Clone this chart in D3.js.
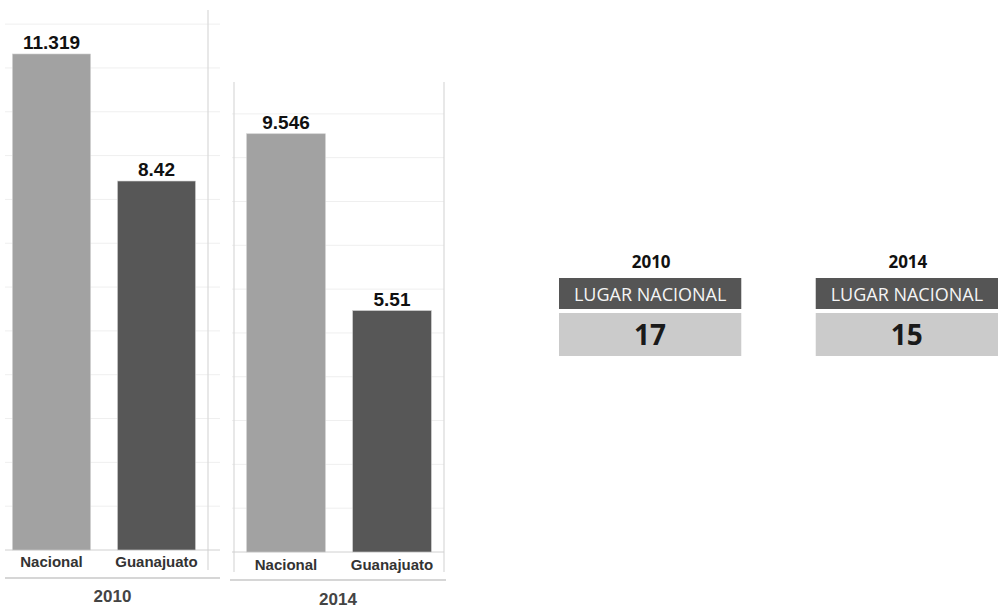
<!DOCTYPE html>
<html>
<head>
<meta charset="utf-8">
<script src="https://cdn.jsdelivr.net/npm/d3@7.9.0/dist/d3.min.js"></script>
<style>
  html, body { margin: 0; padding: 0; background: #fff; }
  svg { display: block; }
</style>
</head>
<body>
<svg id="chart" width="999" height="608"></svg>
<script>
// data
const years = ['2010', '2014'];
const categories = ['Nacional', 'Guanajuato'];
const values2010 = [11.319, 8.42];
const values2014 = [9.546, 5.51];
const ranks = [17, 15];
const rankTitle = 'LUGAR NACIONAL';

const colors = d3.scaleOrdinal().domain(categories).range(['#a2a2a2', '#575757']);
const svg = d3.select('#chart');
const chartFont = '"Liberation Sans", Arial, sans-serif';

// one small bar panel per year
const panels = [
  { year: years[0], values: values2010, x0: 0, x1: 208, base: 550, top: 11, max: 12.3,
    gridX: [5, 220], vlines: [208], vTop: 10, vBottom: 570, footY: 578, footX: [5, 220], catY: 567, yearY: 602 },
  { year: years[1], values: values2014, x0: 234, x1: 444, base: 552, top: 81, max: 10.75,
    gridX: [232, 444], vlines: [234, 444], vTop: 82, vBottom: 572, footY: 580, footX: [230, 446], catY: 570, yearY: 605 }
];

panels.forEach(p => {
  const g = svg.append('g');
  const x = d3.scaleBand().domain(categories).range([p.x0, p.x1]).paddingInner(0.257).paddingOuter(0.119);
  const y = d3.scaleLinear().domain([0, p.max]).range([p.base, p.top]);

  // grid
  g.append('g').selectAll('line')
    .data(d3.range(1, Math.floor(p.max) + 1))
    .join('line')
    .attr('x1', p.gridX[0]).attr('x2', p.gridX[1])
    .attr('y1', d => y(d)).attr('y2', d => y(d))
    .attr('stroke', '#efefef').attr('stroke-width', 1);

  g.selectAll('.vline')
    .data(p.vlines)
    .join('line')
    .attr('class', 'vline')
    .attr('x1', d => d).attr('x2', d => d)
    .attr('y1', p.vTop).attr('y2', p.vBottom)
    .attr('stroke', '#d9d9d9').attr('stroke-width', 1.2);

  // baseline + footer line
  g.append('line')
    .attr('x1', p.gridX[0]).attr('x2', p.gridX[1])
    .attr('y1', y(0)).attr('y2', y(0))
    .attr('stroke', '#d0d0d0');
  g.append('line')
    .attr('x1', p.footX[0]).attr('x2', p.footX[1])
    .attr('y1', p.footY).attr('y2', p.footY)
    .attr('stroke', '#c8c8c8').attr('stroke-width', 1.5);

  // bars
  g.selectAll('rect')
    .data(p.values)
    .join('rect')
    .attr('x', (d, i) => x(categories[i]))
    .attr('width', x.bandwidth())
    .attr('y', d => y(d))
    .attr('height', d => y(0) - y(d))
    .attr('fill', (d, i) => colors(categories[i]))
    .attr('stroke', '#cfcfcf').attr('stroke-width', 0.6);

  // value labels
  g.selectAll('.val')
    .data(p.values)
    .join('text')
    .attr('class', 'val')
    .attr('x', (d, i) => x(categories[i]) + x.bandwidth() / 2)
    .attr('y', d => y(d) - 5)
    .attr('text-anchor', 'middle')
    .style('font-family', chartFont).style('font-weight', 'bold')
    .style('font-size', '19px').attr('fill', '#111')
    .text(d => String(d));

  // category labels
  g.selectAll('.cat')
    .data(categories)
    .join('text')
    .attr('class', 'cat')
    .attr('x', d => x(d) + x.bandwidth() / 2)
    .attr('y', p.catY)
    .attr('text-anchor', 'middle')
    .style('font-family', chartFont).style('font-weight', 'bold')
    .style('font-size', '15px').attr('fill', '#333')
    .text(d => d);

  g.append('text')
    .attr('x', (p.footX[0] + p.footX[1]) / 2)
    .attr('y', p.yearY)
    .attr('text-anchor', 'middle')
    .style('font-family', chartFont).style('font-weight', 'bold')
    .style('font-size', '17px').attr('fill', '#444')
    .text(p.year);
});

// rank boxes
const boxX = d3.scaleBand().domain(years).range([559, 998]).paddingInner(0.29);
const boxFont = '"Open Sans", "Noto Sans", sans-serif';

const boxes = svg.append('g').selectAll('g')
  .data(years)
  .join('g')
  .attr('transform', d => `translate(${boxX(d)},0)`);

boxes.append('text')
  .attr('x', boxX.bandwidth() / 2 + 1)
  .attr('y', 268)
  .attr('text-anchor', 'middle')
  .style('font-family', boxFont).style('font-weight', 'bold')
  .style('font-size', '17px').attr('fill', '#111')
  .text(d => d);

boxes.append('rect')
  .attr('x', 0).attr('y', 278)
  .attr('width', boxX.bandwidth()).attr('height', 31)
  .attr('fill', '#555');

boxes.append('text')
  .attr('x', boxX.bandwidth() / 2)
  .attr('y', 301)
  .attr('text-anchor', 'middle')
  .style('font-family', boxFont)
  .style('font-size', '18px').attr('fill', '#f4f4f4')
  .text(rankTitle);

boxes.append('rect')
  .attr('x', 0).attr('y', 313)
  .attr('width', boxX.bandwidth()).attr('height', 43)
  .attr('fill', '#cbcbcb');

boxes.append('text')
  .attr('x', boxX.bandwidth() / 2)
  .attr('y', 345)
  .attr('text-anchor', 'middle')
  .style('font-family', boxFont).style('font-weight', 'bold')
  .style('font-size', '28px').attr('fill', '#1a1a1a')
  .text((d, i) => ranks[i]);
</script>
</body>
</html>
